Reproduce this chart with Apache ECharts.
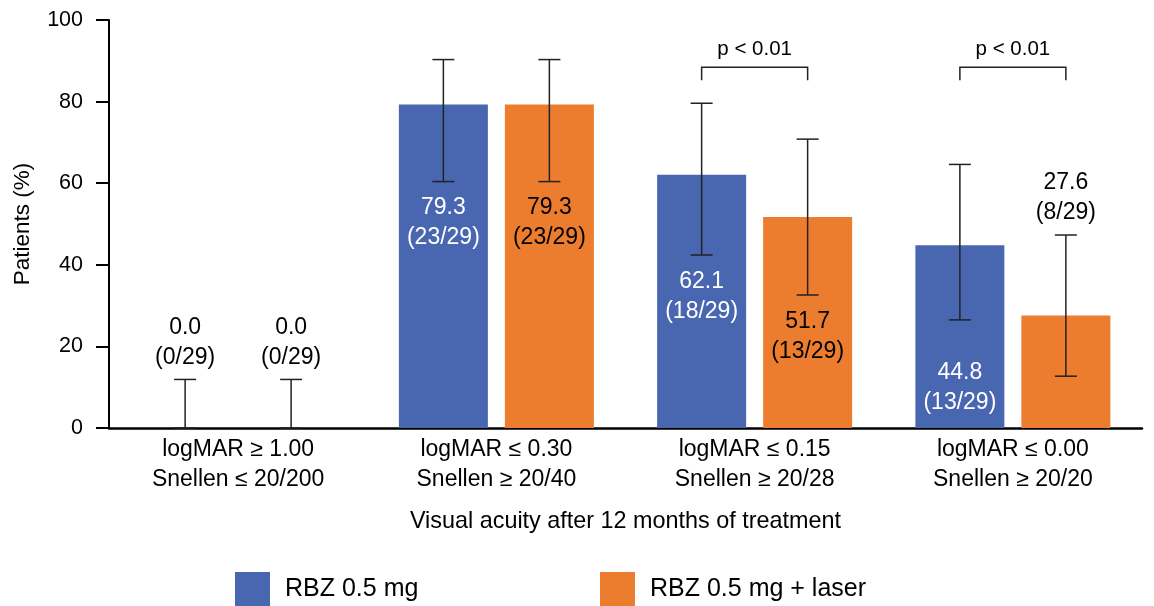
<!DOCTYPE html>
<html>
<head>
<meta charset="utf-8">
<script src="https://cdn.jsdelivr.net/npm/echarts@6/dist/echarts.min.js"></script>
<style>
  html, body { margin: 0; padding: 0; background: #fff; }
  #chart { width: 1154px; height: 606px; }
</style>
</head>
<body>
<div id="chart"></div>
<script>
// Visual acuity thresholds reached after 12 months
const categories = [
  'logMAR ≥ 1.00\nSnellen ≤ 20/200',
  'logMAR ≤ 0.30\nSnellen ≥ 20/40',
  'logMAR ≤ 0.15\nSnellen ≥ 20/28',
  'logMAR ≤ 0.00\nSnellen ≥ 20/20'
];
const seriesNames = ['RBZ 0.5 mg', 'RBZ 0.5 mg + laser'];

// RBZ 0.5 mg: percentage, n/N, 95% CI
const rbzValues = [0.0, 79.3, 62.1, 44.8];
const rbzCounts = ['0/29', '23/29', '18/29', '13/29'];
const rbzLow    = [0.0, 60.4, 42.4, 26.5];
const rbzHigh   = [11.9, 90.3, 79.6, 64.6];

// RBZ 0.5 mg + laser: percentage, n/N, 95% CI
const laserValues = [0.0, 79.3, 51.7, 27.6];
const laserCounts = ['0/29', '23/29', '13/29', '8/29'];
const laserLow    = [0.0, 60.4, 32.6, 12.7];
const laserHigh   = [11.9, 90.3, 70.8, 47.3];

// Between-group comparisons
const pLabels      = ['', '', 'p < 0.01', 'p < 0.01'];
const bracketLevel = [null, null, 88.4, 88.4];

const yTicks = [0, 20, 40, 60, 80, 100];

// ---- styling ----
const FONT = '"Liberation Sans", Arial, Helvetica, sans-serif';
const BLUE = '#4967B0';
const ORANGE = '#EC7D2F';
const BAR_W = 89;
const BAR_GAP = 17;
const HALF = (BAR_W + BAR_GAP) / 2;   // distance from category centre to each bar centre
const CAP = 11;                        // half width of error-bar caps
const ABOVE_GAP = 37;                  // value label centre above an upper cap
const LABEL_FS = 23;

// label placement: 'above' = over the error bar, otherwise pixel shift from bar middle
const rbzLabelPlace   = ['above', -44, -5, 51];
const laserLabelPlace = ['above', -44, 14, 'above'];

function valueText(v, c) {
  return v.toFixed(1) + '\n(' + c + ')';
}

function barSeries(name, values, counts, place, color, textColor) {
  return {
    name, type: 'bar', barWidth: BAR_W, barGap: (BAR_GAP / BAR_W * 100) + '%',
    itemStyle: { color },
    z: 2,
    data: values.map((v, i) => ({
      value: v,
      label: place[i] === 'above' ? { show: false } : {
        show: true, position: 'inside', offset: [0, place[i]],
        formatter: valueText(v, counts[i]),
        color: textColor, fontSize: LABEL_FS, lineHeight: 30, fontFamily: FONT
      }
    }))
  };
}

function errorSeries(name, low, high, values, counts, place, side) {
  return {
    name, type: 'custom', z: 5,
    data: low.map((l, i) => [i, l, high[i]]),
    encode: { x: 0, y: [1, 2] },
    renderItem(params, api) {
      const i = api.value(0);
      const lo = api.coord([i, api.value(1)]);
      const hi = api.coord([i, api.value(2)]);
      const x = lo[0] + side * HALF;
      const st = { stroke: '#222', lineWidth: 1.5 };
      const children = [
        { type: 'line', shape: { x1: x, y1: lo[1], x2: x, y2: hi[1] }, style: st },
        { type: 'line', shape: { x1: x - CAP, y1: hi[1], x2: x + CAP, y2: hi[1] }, style: st },
        { type: 'line', shape: { x1: x - CAP, y1: lo[1], x2: x + CAP, y2: lo[1] }, style: st }
      ];
      if (place[i] === 'above') {
        children.push({
          type: 'text', x: x, y: hi[1] - ABOVE_GAP,
          style: {
            text: valueText(values[i], counts[i]), fill: '#000',
            fontSize: LABEL_FS, lineHeight: 30, fontFamily: FONT,
            align: 'center', verticalAlign: 'middle'
          }
        });
      }
      return { type: 'group', children };
    }
  };
}

const bracketSeries = {
  type: 'custom', z: 5, silent: true,
  data: bracketLevel.map((lv, i) => [i, lv]).filter(d => d[1] !== null),
  encode: { x: 0, y: 1 },
  renderItem(params, api) {
    const i = api.value(0);
    const p = api.coord([i, api.value(1)]);
    const x1 = p[0] - HALF, x2 = p[0] + HALF, y = p[1];
    return {
      type: 'group',
      children: [
        { type: 'polyline', shape: { points: [[x1, y + 13], [x1, y], [x2, y], [x2, y + 13]] },
          style: { stroke: '#222', lineWidth: 1.5, fill: null } },
        { type: 'text', x: p[0], y: y - 18,
          style: { text: pLabels[i], fill: '#000', fontSize: 20.5, fontFamily: FONT,
                   align: 'center', verticalAlign: 'middle' } }
      ]
    };
  }
};

function legend(name, left) {
  return {
    data: [name], left, top: 572, padding: 0,
    icon: 'rect', itemWidth: 35, itemHeight: 34,
    selectedMode: false,
    textStyle: { fontSize: 25, color: '#000', fontFamily: FONT, padding: [0, 0, 0, 10] }
  };
}

const chart = echarts.init(document.getElementById('chart'), null, { renderer: 'canvas' });
chart.setOption({
  animation: false,
  backgroundColor: '#fff',
  textStyle: { fontFamily: FONT },
  grid: { left: 109, right: 12, top: 20, bottom: 178, containLabel: false },
  legend: [legend(seriesNames[0], 235), legend(seriesNames[1], 600)],
  xAxis: {
    type: 'category', data: categories,
    axisLine: { lineStyle: { color: '#000', width: 2.5 } },
    axisTick: { show: false },
    axisLabel: { color: '#000', fontSize: 23, lineHeight: 30, margin: 7, fontFamily: FONT },
    name: 'Visual acuity after 12 months of treatment',
    nameLocation: 'middle', nameGap: 82,
    nameTextStyle: { color: '#000', fontSize: 23.4, fontFamily: FONT }
  },
  yAxis: {
    type: 'value', min: yTicks[0], max: yTicks[yTicks.length - 1], interval: yTicks[1] - yTicks[0],
    splitLine: { show: false },
    axisLine: { show: true, lineStyle: { color: '#000', width: 2 } },
    axisTick: { show: true, length: 13, lineStyle: { color: '#000', width: 2 } },
    axisLabel: { color: '#000', fontSize: 21.5, margin: 26, fontFamily: FONT },
    name: 'Patients (%)', nameLocation: 'middle', nameGap: 75,
    nameTextStyle: { color: '#000', fontSize: 22.5, fontFamily: FONT }
  },
  series: [
    barSeries(seriesNames[0], rbzValues, rbzCounts, rbzLabelPlace, BLUE, '#fff'),
    barSeries(seriesNames[1], laserValues, laserCounts, laserLabelPlace, ORANGE, '#000'),
    errorSeries(seriesNames[0], rbzLow, rbzHigh, rbzValues, rbzCounts, rbzLabelPlace, -1),
    errorSeries(seriesNames[1], laserLow, laserHigh, laserValues, laserCounts, laserLabelPlace, 1),
    bracketSeries
  ]
});
</script>
</body>
</html>
